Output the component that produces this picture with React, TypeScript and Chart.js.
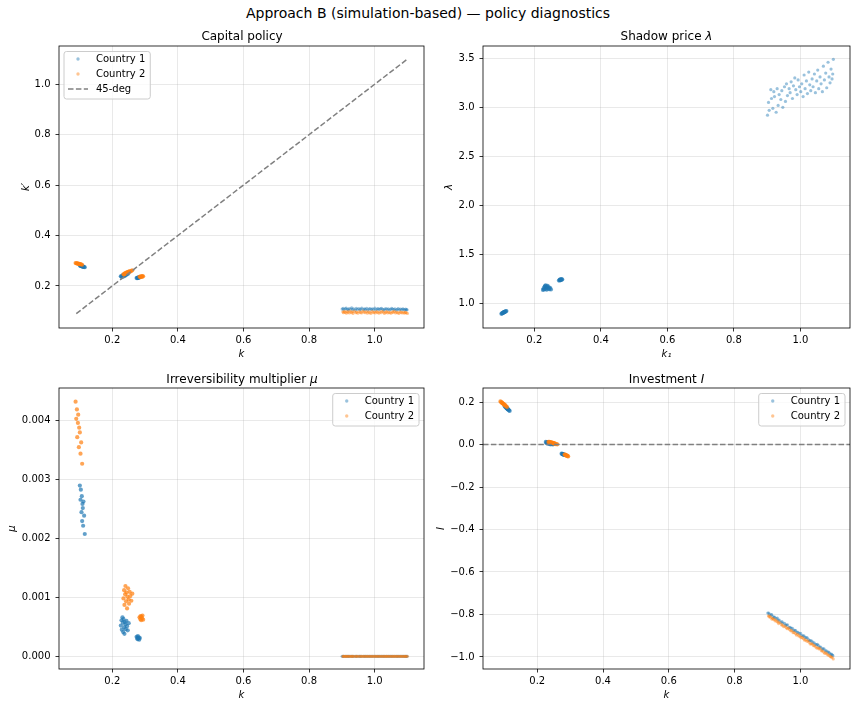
import React, { useEffect, useRef } from 'react';
import Chart from 'chart.js/auto';

Chart.defaults.font.family = '"DejaVu Sans", sans-serif';
Chart.defaults.font.size = 10;
Chart.defaults.color = '#000';

// ---- data: country 1 (low cluster, steady-state cluster, overshoot cluster, high-k initial states)
const kCountry1 = [
  0.101, 0.103, 0.104, 0.106, 0.107, 0.108, 0.109, 0.110, 0.111, 0.112, 0.114, 0.116,
  0.226, 0.228, 0.229, 0.231, 0.232, 0.233, 0.234, 0.236, 0.237, 0.238, 0.240, 0.241, 0.243, 0.245, 0.247, 0.250,
  0.274, 0.276, 0.277, 0.278, 0.279, 0.281, 0.282, 0.284,
  0.901, 0.904, 0.906, 0.911, 0.913, 0.917, 0.920, 0.922, 0.927, 0.930,
  0.933, 0.936, 0.941, 0.944, 0.947, 0.952, 0.955, 0.958, 0.961, 0.966,
  0.969, 0.972, 0.976, 0.979, 0.983, 0.986, 0.990, 0.993, 0.997, 1.001,
  1.004, 1.008, 1.011, 1.014, 1.018, 1.021, 1.025, 1.028, 1.031, 1.035,
  1.038, 1.042, 1.045, 1.049, 1.052, 1.055, 1.059, 1.062, 1.066, 1.069,
  1.072, 1.076, 1.079, 1.083, 1.086, 1.089, 1.092, 1.095, 1.097, 1.099,
];
const kNext1 = [
  0.281, 0.279, 0.280, 0.278, 0.279, 0.277, 0.278, 0.276, 0.277, 0.276, 0.275, 0.274,
  0.238, 0.238, 0.235, 0.240, 0.243, 0.237, 0.242, 0.243, 0.239, 0.244, 0.245, 0.242, 0.246, 0.249, 0.247, 0.252,
  0.231, 0.232, 0.231, 0.233, 0.232, 0.234, 0.233, 0.235,
  0.108, 0.111, 0.106, 0.109, 0.112, 0.107, 0.105, 0.110, 0.108, 0.113,
  0.106, 0.109, 0.104, 0.111, 0.107, 0.110, 0.105, 0.108, 0.112, 0.106,
  0.109, 0.107, 0.111, 0.104, 0.108, 0.110, 0.106, 0.109, 0.107, 0.112,
  0.105, 0.108, 0.110, 0.106, 0.109, 0.111, 0.107, 0.104, 0.108, 0.110,
  0.106, 0.109, 0.105, 0.107, 0.111, 0.108, 0.106, 0.109, 0.104, 0.107,
  0.110, 0.105, 0.108, 0.106, 0.109, 0.107, 0.104, 0.108, 0.106, 0.105,
];
const lambda1 = [
  0.893, 0.897, 0.899, 0.903, 0.905, 0.907, 0.909, 0.911, 0.913, 0.915, 0.918, 0.921,
  1.137, 1.152, 1.141, 1.168, 1.175, 1.146, 1.182, 1.160, 1.139, 1.171, 1.178, 1.150, 1.163, 1.144, 1.158, 1.142,
  1.232, 1.238, 1.241, 1.235, 1.244, 1.239, 1.246, 1.243,
  2.92, 3.05, 2.97, 3.18, 3.09, 2.99, 3.16, 3.11, 2.95, 3.19,
  3.02, 3.13, 3.08, 3.17, 3.00, 3.21, 3.06, 3.24, 3.12, 3.19,
  3.15, 3.26, 3.09, 3.22, 3.30, 3.18, 3.13, 3.28, 3.21, 3.16,
  3.24, 3.11, 3.33, 3.19, 3.27, 3.14, 3.36, 3.23, 3.17, 3.29,
  3.21, 3.34, 3.15, 3.27, 3.38, 3.19, 3.31, 3.24, 3.16, 3.42,
  3.28, 3.35, 3.20, 3.46, 3.31, 3.25, 3.39, 3.29, 3.34, 3.49,
];
const mu1 = [
  0.00289, 0.00265, 0.00282, 0.00244, 0.00271, 0.00229, 0.00258, 0.00251, 0.00221, 0.00262, 0.00238, 0.00207,
  0.00052, 0.00061, 0.00045, 0.00066, 0.00057, 0.00041, 0.00063, 0.00049, 0.00038, 0.00058, 0.00054, 0.00046, 0.00060, 0.00051, 0.00044, 0.00056,
  0.00033, 0.00031, 0.00029, 0.00034, 0.00030, 0.00032, 0.00028, 0.00031,
  0, 0, 0, 0, 0, 0, 0, 0, 0, 0,
  0, 0, 0, 0, 0, 0, 0, 0, 0, 0,
  0, 0, 0, 0, 0, 0, 0, 0, 0, 0,
  0, 0, 0, 0, 0, 0, 0, 0, 0, 0,
  0, 0, 0, 0, 0, 0, 0, 0, 0, 0,
  0, 0, 0, 0, 0, 0, 0, 0, 0, 0,
];
const invest1 = [
  0.180, 0.176, 0.176, 0.172, 0.172, 0.169, 0.169, 0.166, 0.166, 0.164, 0.161, 0.158,
  0.012, 0.010, 0.006, 0.009, 0.011, 0.004, 0.008, 0.007, 0.002, 0.006, 0.005, 0.001, 0.003, 0.004, 0.000, 0.002,
  -0.043, -0.044, -0.046, -0.045, -0.047, -0.047, -0.049, -0.049,
  -0.793, -0.793, -0.800, -0.802, -0.801, -0.810, -0.815, -0.812, -0.819, -0.817,
  -0.827, -0.827, -0.837, -0.833, -0.840, -0.842, -0.850, -0.850, -0.849, -0.860,
  -0.860, -0.865, -0.865, -0.875, -0.875, -0.876, -0.884, -0.884, -0.890, -0.889,
  -0.899, -0.900, -0.901, -0.908, -0.909, -0.910, -0.918, -0.924, -0.923, -0.925,
  -0.932, -0.933, -0.940, -0.942, -0.941, -0.947, -0.953, -0.953, -0.962, -0.962,
  -0.962, -0.971, -0.971, -0.977, -0.977, -0.982, -0.988, -0.987, -0.991, -0.994,
];

// ---- data: country 2
const kCountry2 = [
  0.088, 0.090, 0.092, 0.093, 0.095, 0.096, 0.098, 0.099, 0.101, 0.103, 0.105, 0.108,
  0.234, 0.236, 0.237, 0.239, 0.240, 0.242, 0.243, 0.245, 0.246, 0.248, 0.250, 0.251, 0.253, 0.255, 0.258, 0.261,
  0.283, 0.285, 0.286, 0.288, 0.289, 0.291, 0.292, 0.294,
  0.903, 0.905, 0.908, 0.910, 0.914, 0.916, 0.919, 0.923, 0.925, 0.929,
  0.932, 0.934, 0.938, 0.943, 0.945, 0.949, 0.953, 0.957, 0.960, 0.964,
  0.967, 0.971, 0.974, 0.978, 0.981, 0.985, 0.988, 0.992, 0.995, 0.999,
  1.002, 1.006, 1.009, 1.013, 1.016, 1.020, 1.023, 1.027, 1.030, 1.034,
  1.036, 1.040, 1.043, 1.047, 1.050, 1.054, 1.057, 1.060, 1.064, 1.067,
  1.071, 1.074, 1.078, 1.081, 1.084, 1.088, 1.091, 1.094, 1.096, 1.100,
];
const kNext2 = [
  0.291, 0.290, 0.289, 0.290, 0.288, 0.289, 0.287, 0.288, 0.286, 0.287, 0.285, 0.284,
  0.246, 0.245, 0.249, 0.248, 0.251, 0.250, 0.253, 0.252, 0.255, 0.254, 0.257, 0.256, 0.258, 0.257, 0.260, 0.262,
  0.236, 0.237, 0.235, 0.238, 0.236, 0.239, 0.237, 0.238,
  0.097, 0.094, 0.099, 0.095, 0.092, 0.098, 0.096, 0.093, 0.100, 0.095,
  0.097, 0.091, 0.099, 0.094, 0.096, 0.092, 0.098, 0.095, 0.093, 0.100,
  0.096, 0.094, 0.098, 0.092, 0.097, 0.095, 0.091, 0.099, 0.094, 0.096,
  0.093, 0.098, 0.095, 0.092, 0.097, 0.094, 0.099, 0.096, 0.091, 0.095,
  0.098, 0.093, 0.096, 0.094, 0.092, 0.097, 0.095, 0.099, 0.093, 0.096,
  0.094, 0.091, 0.097, 0.095, 0.093, 0.096, 0.092, 0.095, 0.094, 0.091,
];
const mu2 = [
  0.00431, 0.00402, 0.00418, 0.00371, 0.00395, 0.00409, 0.00354, 0.00387, 0.00379, 0.00343, 0.00362, 0.00326,
  0.00098, 0.00112, 0.00087, 0.00105, 0.00119, 0.00093, 0.00108, 0.00081, 0.00101, 0.00115, 0.00096, 0.00089, 0.00109, 0.00102, 0.00094, 0.00106,
  0.00066, 0.00063, 0.00068, 0.00061, 0.00067, 0.00064, 0.00069, 0.00062,
  0, 0, 0, 0, 0, 0, 0, 0, 0, 0,
  0, 0, 0, 0, 0, 0, 0, 0, 0, 0,
  0, 0, 0, 0, 0, 0, 0, 0, 0, 0,
  0, 0, 0, 0, 0, 0, 0, 0, 0, 0,
  0, 0, 0, 0, 0, 0, 0, 0, 0, 0,
  0, 0, 0, 0, 0, 0, 0, 0, 0, 0,
];
const invest2 = [
  0.203, 0.200, 0.197, 0.197, 0.193, 0.193, 0.189, 0.189, 0.185, 0.184, 0.180, 0.176,
  0.012, 0.009, 0.012, 0.009, 0.011, 0.008, 0.010, 0.007, 0.009, 0.006, 0.007, 0.005, 0.005, 0.002, 0.002, 0.001,
  -0.047, -0.048, -0.051, -0.050, -0.053, -0.052, -0.055, -0.056,
  -0.806, -0.811, -0.809, -0.815, -0.822, -0.818, -0.823, -0.830, -0.825, -0.834,
  -0.835, -0.843, -0.839, -0.849, -0.849, -0.857, -0.855, -0.862, -0.867, -0.864,
  -0.871, -0.877, -0.876, -0.886, -0.884, -0.890, -0.897, -0.893, -0.901, -0.903,
  -0.909, -0.908, -0.914, -0.921, -0.919, -0.926, -0.924, -0.931, -0.939, -0.939,
  -0.938, -0.947, -0.947, -0.953, -0.958, -0.957, -0.962, -0.961, -0.971, -0.971,
  -0.977, -0.983, -0.981, -0.986, -0.991, -0.992, -0.999, -0.999, -1.002, -1.009,
];

const diagK = [0.09, 1.1];
const zeroLine = 0;

const xTicks = [0.2, 0.4, 0.6, 0.8, 1.0];
const kNextTicks = [0.2, 0.4, 0.6, 0.8, 1.0];
const lambdaTicks = [1.0, 1.5, 2.0, 2.5, 3.0, 3.5];
const muTicks = [0, 0.001, 0.002, 0.003, 0.004];
const investTicks = [-1.0, -0.8, -0.6, -0.4, -0.2, 0.0, 0.2];

const BLUE = '31, 119, 180';
const ORANGE = '255, 127, 14';
const GRID = 'rgba(176, 176, 176, 0.35)';
const FONT = '"DejaVu Sans", sans-serif';

type Pt = { x: number; y: number };
const pts = (xs: number[], ys: number[]): Pt[] => xs.map((x, i) => ({ x, y: ys[i] }));

const scatterSet = (label: string, rgb: string, data: Pt[], order: number) => ({
  type: 'scatter',
  label,
  data,
  order,
  legendColor: `rgba(${rgb}, 0.45)`,
  pointRadius: (c: any) => (c.raw && c.raw.x < 0.5 ? 2.1 : 1.6),
  pointBackgroundColor: (c: any) => `rgba(${rgb}, ${c.raw && c.raw.x < 0.5 ? 0.7 : 0.45})`,
  pointBorderWidth: 0,
  pointBorderColor: 'rgba(0,0,0,0)',
  showLine: false,
});

const axis = (o: {
  min: number; max: number; ticks: number[]; digits: number; title: string;
  size: number; titlePad: number; horizontal: boolean;
}) => ({
  type: 'linear',
  min: o.min,
  max: o.max,
  afterBuildTicks: (s: any) => { s.ticks = o.ticks.map((value) => ({ value })); },
  afterFit: (s: any) => { if (o.horizontal) s.height = o.size; else s.width = o.size; },
  ticks: {
    autoSkip: false, maxRotation: 0, minRotation: 0,
    padding: o.horizontal ? 3 : 5,
    color: '#000',
    font: { size: 10 },
    callback: (v: number) => v.toFixed(o.digits).replace('-', '\u2212'),
  },
  grid: { color: GRID, lineWidth: 0.8, tickColor: '#000', tickLength: 3.5, tickWidth: 0.8 },
  border: { display: false },
  title: {
    display: true, text: o.title, color: '#000',
    font: { size: 10, style: 'italic' },
    padding: o.horizontal ? { top: 0, bottom: 4 } : { top: o.titlePad, bottom: 0 },
  },
});

// frame, optional horizontal reference line, optional boxed legend inside the axes
const decor = {
  id: 'decor',
  afterDatasetsDraw(chart: any, _args: unknown, opts: any) {
    const { ctx, chartArea: a } = chart;
    ctx.save();
    if (typeof opts.hline === 'number') {
      const y = chart.scales.y.getPixelForValue(opts.hline);
      ctx.strokeStyle = 'gray';
      ctx.lineWidth = 1.5;
      ctx.setLineDash([5.5, 2.4]);
      ctx.beginPath();
      ctx.moveTo(a.left, y);
      ctx.lineTo(a.right, y);
      ctx.stroke();
      ctx.setLineDash([]);
    }
    ctx.strokeStyle = '#000';
    ctx.lineWidth = 0.8;
    ctx.strokeRect(a.left, a.top, a.right - a.left, a.bottom - a.top);

    if (opts.legend === 'left' || opts.legend === 'right') {
      const items = chart.data.datasets.filter((d: any) => d.label);
      ctx.font = `10px ${FONT}`;
      const textW = Math.max(...items.map((d: any) => ctx.measureText(d.label).width));
      const w = 32 + textW + 5;
      const h = items.length * 15 + 2.5;
      const x = opts.legend === 'left' ? a.left + 5 : a.right - 5 - w;
      const y = a.top + 5.5;
      ctx.beginPath();
      ctx.roundRect(x, y, w, h, 2.5);
      ctx.fillStyle = 'rgba(255,255,255,0.8)';
      ctx.fill();
      ctx.strokeStyle = '#cccccc';
      ctx.lineWidth = 1;
      ctx.stroke();
      items.forEach((d: any, i: number) => {
        const cy = y + 7.5 + i * 15;
        if (d.showLine) {
          ctx.strokeStyle = 'gray';
          ctx.lineWidth = 1.5;
          ctx.setLineDash([5.5, 2.4]);
          ctx.beginPath();
          ctx.moveTo(x + 4, cy);
          ctx.lineTo(x + 24, cy);
          ctx.stroke();
          ctx.setLineDash([]);
        } else {
          ctx.fillStyle = d.legendColor;
          ctx.beginPath();
          ctx.arc(x + 14, cy, 1.7, 0, Math.PI * 2);
          ctx.fill();
        }
        ctx.fillStyle = '#000';
        ctx.textBaseline = 'middle';
        ctx.textAlign = 'left';
        ctx.fillText(d.label, x + 32, cy);
      });
    }
    ctx.restore();
  },
};

const baseOptions = (padRight: number, decorOpts: any, x: any, y: any) => ({
  responsive: false,
  animation: false,
  events: [],
  layout: { padding: { top: 14, right: padRight, bottom: 0, left: 0 } },
  plugins: { legend: { display: false }, tooltip: { enabled: false }, title: { display: false }, decor: decorOpts },
  scales: { x, y },
});

const makeCapital = () => ({
  type: 'scatter',
  data: {
    datasets: [
      scatterSet('Country 1', BLUE, pts(kCountry1, kNext1), 2),
      scatterSet('Country 2', ORANGE, pts(kCountry2, kNext2), 1),
      {
        type: 'scatter', label: '45-deg', data: pts(diagK, diagK), order: 0, showLine: true,
        borderColor: 'gray', borderWidth: 1.5, borderDash: [5.5, 2.4], pointRadius: 0,
      },
    ],
  },
  options: baseOptions(3, { legend: 'left' },
    axis({ min: 0.0374, max: 1.1506, ticks: xTicks, digits: 1, title: 'k', size: 36, titlePad: 0, horizontal: true }),
    axis({ min: 0.033, max: 1.152, ticks: kNextTicks, digits: 1, title: 'k\u2032', size: 59, titlePad: 20, horizontal: false })),
  plugins: [decor],
});

const makeShadow = () => ({
  type: 'scatter',
  data: { datasets: [scatterSet('', BLUE, pts(kCountry1, lambda1), 0)] },
  options: baseOptions(6, {},
    axis({ min: 0.0457, max: 1.149, ticks: xTicks, digits: 1, title: 'k\u2081', size: 36, titlePad: 0, horizontal: true }),
    axis({ min: 0.748, max: 3.626, ticks: lambdaTicks, digits: 1, title: '\u03bb', size: 55, titlePad: 15, horizontal: false })),
  plugins: [decor],
});

const makeMu = () => ({
  type: 'scatter',
  data: {
    datasets: [
      scatterSet('Country 1', BLUE, pts(kCountry1, mu1), 1),
      scatterSet('Country 2', ORANGE, pts(kCountry2, mu2), 0),
    ],
  },
  options: baseOptions(3, { legend: 'right' },
    axis({ min: 0.0374, max: 1.1506, ticks: xTicks, digits: 1, title: 'k', size: 36, titlePad: 0, horizontal: true }),
    axis({ min: -0.000215, max: 0.004542, ticks: muTicks, digits: 3, title: '\u03bc', size: 59, titlePad: 6.5, horizontal: false })),
  plugins: [decor],
});

const makeInvest = () => ({
  type: 'scatter',
  data: {
    datasets: [
      scatterSet('Country 1', BLUE, pts(kCountry1, invest1), 1),
      scatterSet('Country 2', ORANGE, pts(kCountry2, invest2), 0),
    ],
  },
  options: baseOptions(6, { legend: 'right', hline: zeroLine },
    axis({ min: 0.035, max: 1.151, ticks: xTicks, digits: 1, title: 'k', size: 36, titlePad: 0, horizontal: true }),
    axis({ min: -1.0566, max: 0.266, ticks: investTicks, digits: 1, title: 'I', size: 55, titlePad: 7, horizontal: false })),
  plugins: [decor],
});

type Box = { left: number; top: number; width: number; height: number };

function Panel({ box, make }: { box: Box; make: () => any }) {
  const canvasRef = useRef<HTMLCanvasElement>(null);
  useEffect(() => {
    if (!canvasRef.current) return;
    const chart = new Chart(canvasRef.current, make());
    return () => chart.destroy();
  }, [make]);
  return (
    <canvas
      ref={canvasRef}
      width={box.width}
      height={box.height}
      style={{ position: 'absolute', left: box.left, top: box.top, width: box.width, height: box.height }}
    />
  );
}

function Title({ x, y, size, children }: { x: number; y: number; size: number; children: React.ReactNode }) {
  return (
    <div
      style={{
        position: 'absolute', left: x, top: y, transform: 'translate(-50%, -50%)',
        fontSize: size, lineHeight: `${size}px`, whiteSpace: 'nowrap', color: '#000', fontFamily: FONT,
      }}
    >
      {children}
    </div>
  );
}

export default function App() {
  return (
    <div style={{ position: 'absolute', left: 0, top: 0, width: 856, height: 709, background: '#fff', fontFamily: FONT }}>
      <Panel box={{ left: 0, top: 32, width: 428, height: 332 }} make={makeCapital} />
      <Panel box={{ left: 428, top: 32, width: 428, height: 332 }} make={makeShadow} />
      <Panel box={{ left: 0, top: 374, width: 428, height: 331 }} make={makeMu} />
      <Panel box={{ left: 428, top: 374, width: 428, height: 331 }} make={makeInvest} />
      <Title x={428} y={13} size={14}>Approach B (simulation-based) — policy diagnostics</Title>
      <Title x={242} y={36} size={12}>Capital policy</Title>
      <Title x={666.5} y={36} size={12}>Shadow price <i>λ</i></Title>
      <Title x={242} y={379} size={12}>Irreversibility multiplier <i>μ</i></Title>
      <Title x={666.5} y={379} size={12}>Investment <i>I</i></Title>
    </div>
  );
}
